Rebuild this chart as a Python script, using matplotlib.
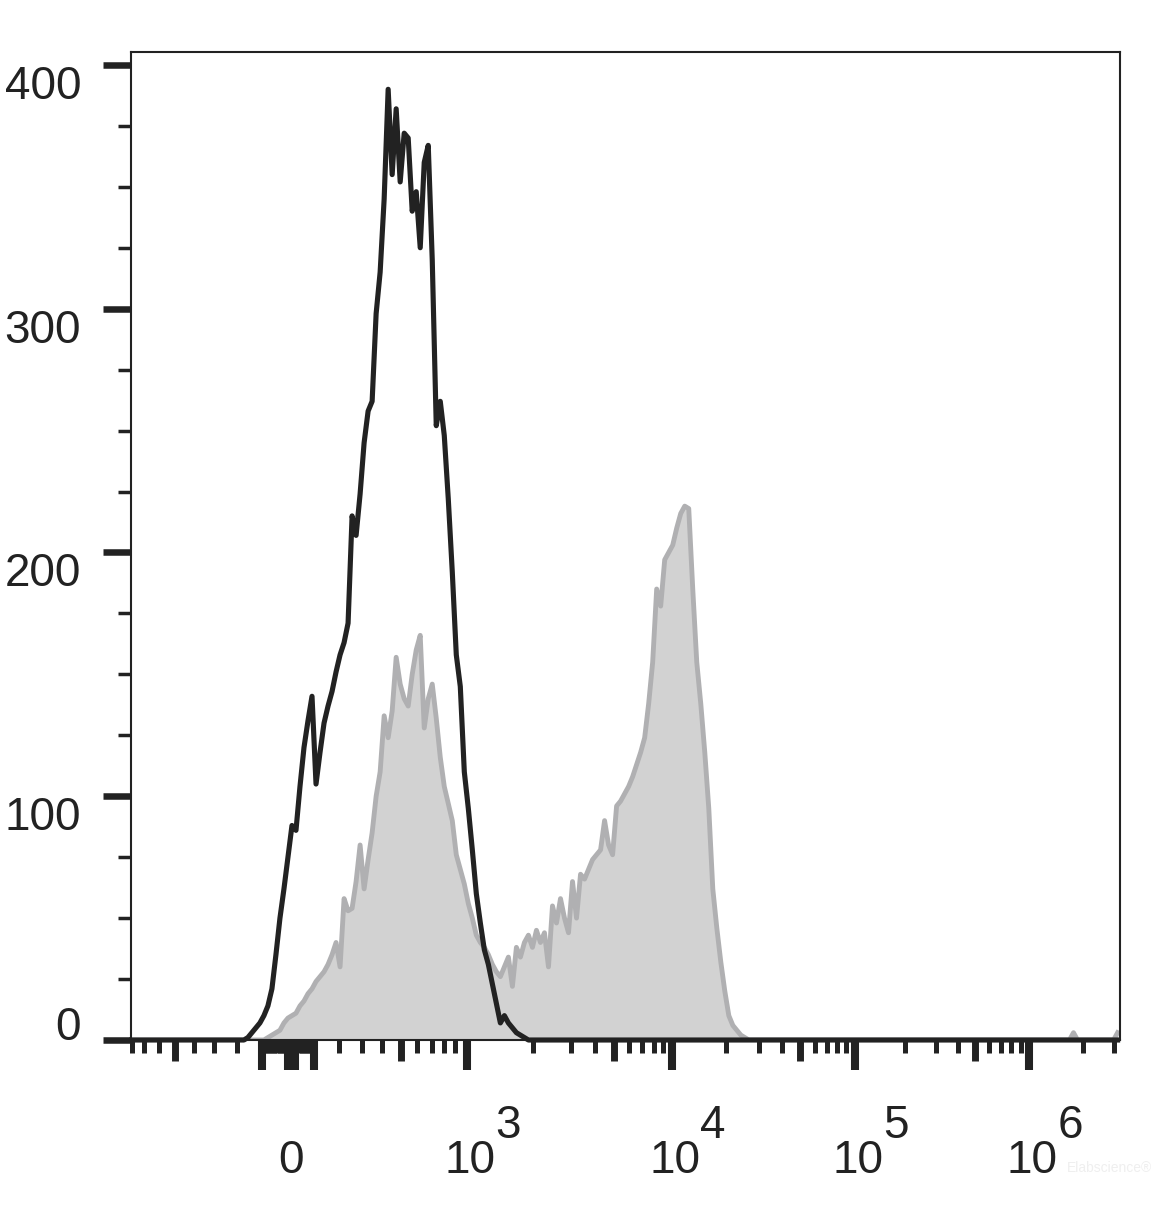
import numpy as np
import matplotlib
matplotlib.use("Agg")
import matplotlib.pyplot as plt
from matplotlib.ticker import FixedLocator, NullFormatter

# display scale of the cytometer axis (biexponential), value -> display units
scale_values = [0, 100, 200, 300, 400, 500, 600, 700, 800, 900, 1000,
                2000, 3000, 5000, 1e4, 2e4, 5e4, 1e5, 2e5, 5e5, 1e6,
                2e6, 3e6, 1e7, 1e8]
scale_units = [0, 26, 50.5, 73.5, 93.5, 112.5, 128.5, 143.5, 155.5, 166.5, 178.5,
               244.5, 282.5, 325.5, 383.5, 437.5, 511.5, 565.5, 615.5, 685.5, 739.5,
               793.5, 824.5, 913.5, 1087.5]

# histogram channels (uniform in display units)
channel_width = 4.0
channels = np.arange(-39, 208)

# isotype / unstained control (black line)
black_start = -11
black_counts = [0, 1, 3, 5, 7, 10, 14, 21, 35, 50, 62,
                75, 88, 86, 104, 120, 131, 141, 105, 118, 130,
                137, 143, 151, 158, 163, 171, 215, 207, 224, 245,
                258, 262, 298, 315, 345, 390, 355, 382, 352, 372,
                370, 340, 348, 325, 360, 367, 320, 252, 262, 248,
                222, 192, 158, 145, 110, 95, 78, 60, 48, 37,
                31, 23, 15, 7, 10, 7, 5, 3, 2, 1, 0]

# stained sample (grey filled)
gray_start = -6
gray_counts = [0, 1, 2, 3, 4, 7,
               9, 10, 11, 14, 16, 19, 21, 24, 26, 28,
               31, 35, 40, 30, 58, 53, 54, 65, 80, 62,
               74, 85, 100, 110, 133, 124, 135, 157, 146, 140,
               137, 150, 160, 166, 128, 140, 146, 132, 116, 104,
               97, 90, 76, 70, 64, 56, 50, 43, 40, 38,
               35, 31, 28, 26, 30, 34, 22, 38, 34, 40,
               43, 38, 45, 40, 44, 30, 55, 48, 58, 50,
               44, 65, 50, 68, 66, 70, 74, 76, 78, 90,
               80, 76, 96, 98, 101, 104, 108, 113, 118, 124,
               138, 155, 185, 178, 197, 200, 203, 210, 216, 219,
               218, 185, 155, 138, 118, 95, 62, 46, 32, 20,
               10, 6, 4, 2, 1, 0]
gray_tail = {196: 3, 207: 3}

y_ticks = [0, 100, 200, 300, 400]
x_long = [-100, 0, 25, 100, 1e3, 1e4, 1e5, 1e6]
x_medium = [-500, 500, 5e3, 5e4, 5e5]
x_minor = ([-v for v in (800, 700, 600, 400, 300, 200)]
           + [s * v for s in (-1, 1) for v in range(10, 100, 10)]
           + [200, 300, 400, 600, 700, 800, 900]
           + [m * 10 ** e for e in (3, 4, 5) for m in (2, 3, 4, 6, 7, 8, 9)]
           + [2e6, 3e6])
x_labels = [(0, "0", None), (1e3, "10", "3"), (1e4, "10", "4"),
            (1e5, "10", "5"), (1e6, "10", "6")]


def forward(x):
    x = np.asarray(x, dtype=float)
    u = np.arcsinh(np.abs(x) / 150.0)
    return np.sign(x) * np.interp(u, np.arcsinh(np.array(scale_values) / 150.0), scale_units)


def inverse(t):
    t = np.asarray(t, dtype=float)
    u = np.interp(np.abs(t), scale_units, np.arcsinh(np.array(scale_values) / 150.0))
    return np.sign(t) * 150.0 * np.sinh(u)


def fill_channels(start, counts):
    full = np.zeros(len(channels))
    i = start - channels[0]
    full[i:i + len(counts)] = counts
    return full


plt.rcParams["font.family"] = ["Liberation Sans", "DejaVu Sans"]
ink = "#222222"

x_vals = inverse(channels * channel_width)
black = fill_channels(black_start, black_counts)
gray = fill_channels(gray_start, gray_counts)
for ch, c in gray_tail.items():
    gray[ch - channels[0]] = c

fig = plt.figure(figsize=(11.57, 12.06), dpi=100)
ax = fig.add_axes([131 / 1157, 166 / 1206, 989 / 1157, 988 / 1206])
ax.set_xscale("function", functions=(forward, inverse))

ax.fill_between(x_vals, gray, color="#d2d2d2", lw=0, zorder=1)
ax.plot(x_vals, gray, color="#b0b0b2", lw=3.5, zorder=2)
ax.plot(x_vals, black, color=ink, lw=3.7, zorder=3, clip_on=False)

ax.set_xlim(-810, 3.25e6)
ax.set_ylim(0, 405.3)

for sp in ax.spines.values():
    sp.set_color(ink)
    sp.set_linewidth(1.5)

# y axis
ax.set_yticks(y_ticks)
ax.yaxis.set_minor_locator(FixedLocator(np.arange(0, 401, 25)))
ax.tick_params(axis="y", which="major", length=20, width=4.7, color=ink,
               labelsize=33, labelcolor=ink, pad=16)
ax.tick_params(axis="y", which="minor", length=9.4, width=2.5, color=ink)
for lab in ax.get_yticklabels():
    lab.set_va("top")
ax.get_yticklabels()[0].set_va("baseline")

# x axis
major = sorted(x_long + x_medium)
ax.xaxis.set_major_locator(FixedLocator(major))
ax.xaxis.set_minor_locator(FixedLocator(sorted(x_minor)))
ax.xaxis.set_major_formatter(NullFormatter())
ax.xaxis.set_minor_formatter(NullFormatter())
ax.tick_params(axis="x", which="major", length=21.6, width=5.8, color=ink)
ax.tick_params(axis="x", which="minor", length=9.4, width=3.6, color=ink)
for tick, v in zip(ax.xaxis.get_major_ticks(), major):
    if v in x_medium:
        tick.tick1line.set_markersize(15)
        tick.tick1line.set_markeredgewidth(5)

for v, base, exp in x_labels:
    ax.annotate(base, xy=(v, 0), xycoords=("data", "axes fraction"),
                xytext=(3, -133), textcoords="offset pixels",
                ha="center", va="baseline", fontsize=33, color=ink)
    if exp:
        ax.annotate(exp, xy=(v, 0), xycoords=("data", "axes fraction"),
                    xytext=(41, -98), textcoords="offset pixels",
                    ha="center", va="baseline", fontsize=33, color=ink)

# faint watermark, kept clear of the 10^6 label
fig.text(1152 / 1157, 1 - 1172 / 1206, "Elabscience\u00ae", fontsize=10,
         color="#efefef", ha="right", va="baseline")

fig.savefig("out.png", dpi=100)
